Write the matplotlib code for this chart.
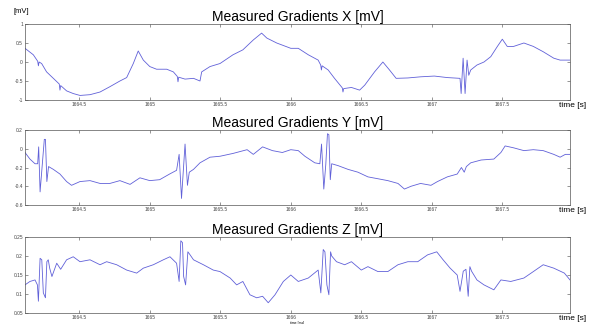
import matplotlib
matplotlib.use("Agg")
import matplotlib.pyplot as plt
import numpy as np

plt.rcParams['font.family'] = ['Liberation Sans', 'DejaVu Sans']

# Gradient X [mV]
tx = [1664.115, 1664.174, 1664.205, 1664.210, 1664.215, 1664.233, 1664.268, 1664.316, 1664.358,
      1664.363, 1664.368, 1664.41, 1664.457, 1664.505, 1664.576, 1664.647, 1664.717, 1664.788,
      1664.836, 1664.883, 1664.918, 1664.954, 1665.0, 1665.048, 1665.12, 1665.167, 1665.195,
      1665.2, 1665.205, 1665.25, 1665.31, 1665.356, 1665.368, 1665.427, 1665.498, 1665.59,
      1665.66, 1665.734, 1665.793, 1665.83, 1665.9, 1666.0, 1666.053, 1666.124, 1666.194,
      1666.212, 1666.217, 1666.222, 1666.265, 1666.31, 1666.365, 1666.37, 1666.375, 1666.43,
      1666.488, 1666.524, 1666.594, 1666.653, 1666.7, 1666.747, 1666.83, 1666.92, 1667.018,
      1667.11, 1667.2, 1667.208, 1667.222, 1667.236, 1667.25, 1667.262, 1667.276, 1667.32,
      1667.37, 1667.418, 1667.465, 1667.5, 1667.535, 1667.58, 1667.653, 1667.72, 1667.79,
      1667.865, 1667.91, 1667.98]
gx = [0.36, 0.19, 0.02, -0.10, 0.0, -0.04, -0.26, -0.43, -0.58,
      -0.74, -0.62, -0.76, -0.83, -0.88, -0.86, -0.79, -0.65, -0.50,
      -0.41, -0.04, 0.29, 0.05, -0.12, -0.19, -0.19, -0.26, -0.38,
      -0.52, -0.40, -0.45, -0.43, -0.50, -0.26, -0.12, -0.04, 0.19,
      0.32, 0.58, 0.76, 0.63, 0.50, 0.36, 0.36, 0.19, 0.05,
      -0.08, -0.21, -0.10, -0.21, -0.43, -0.68, -0.79, -0.70, -0.67,
      -0.74, -0.61, -0.26, 0.0, -0.21, -0.43, -0.42, -0.39, -0.37,
      -0.41, -0.43, -0.83, 0.10, -0.83, 0.05, -0.35, -0.21, -0.08,
      0.0, 0.14, 0.41, 0.60, 0.41, 0.41, 0.50, 0.41, 0.27,
      0.10, 0.05, 0.05]

# Gradient Y [mV]
ty = [1664.115, 1664.15, 1664.186, 1664.205, 1664.212, 1664.222, 1664.238, 1664.252, 1664.26,
      1664.27, 1664.282, 1664.316, 1664.363, 1664.41, 1664.445, 1664.505, 1664.576, 1664.647,
      1664.717, 1664.788, 1664.86, 1664.93, 1665.0, 1665.07, 1665.14, 1665.19, 1665.208,
      1665.225, 1665.25, 1665.267, 1665.28, 1665.31, 1665.356, 1665.427, 1665.498, 1665.59,
      1665.69, 1665.734, 1665.8, 1665.87, 1665.94, 1666.0, 1666.053, 1666.1, 1666.17,
      1666.206, 1666.218, 1666.234, 1666.248, 1666.26, 1666.27, 1666.28, 1666.29, 1666.335,
      1666.406, 1666.476, 1666.547, 1666.618, 1666.688, 1666.76, 1666.806, 1666.853, 1666.92,
      1666.994, 1667.04, 1667.11, 1667.18, 1667.21, 1667.23, 1667.245, 1667.276, 1667.35,
      1667.44, 1667.49, 1667.52, 1667.58, 1667.653, 1667.72, 1667.79, 1667.865, 1667.91,
      1667.947, 1667.98]
gy = [-0.04, -0.11, -0.16, -0.16, 0.02, -0.46, -0.16, 0.10, 0.10,
      -0.35, -0.19, -0.22, -0.27, -0.35, -0.39, -0.35, -0.34, -0.37,
      -0.37, -0.34, -0.38, -0.31, -0.34, -0.33, -0.27, -0.23, -0.06,
      -0.53, 0.05, -0.39, -0.25, -0.22, -0.15, -0.09, -0.08, -0.05,
      -0.01, -0.06, 0.02, -0.02, -0.04, -0.01, -0.02, -0.08, -0.15,
      -0.16, 0.05, -0.43, -0.17, 0.16, 0.15, -0.33, -0.16, -0.18,
      -0.22, -0.25, -0.30, -0.32, -0.34, -0.37, -0.43, -0.40, -0.37,
      -0.39, -0.35, -0.30, -0.27, -0.20, -0.25, -0.19, -0.15, -0.12,
      -0.11, -0.04, 0.03, 0.01, -0.02, -0.01, -0.02, -0.06, -0.09,
      -0.06, -0.06]

# Gradient Z [mV]
tz = [1664.115, 1664.15, 1664.186, 1664.203, 1664.21, 1664.222, 1664.234, 1664.245, 1664.26,
      1664.27, 1664.28, 1664.29, 1664.306, 1664.34, 1664.368, 1664.41, 1664.457, 1664.505,
      1664.576, 1664.647, 1664.694, 1664.765, 1664.836, 1664.907, 1664.954, 1665.025, 1665.096,
      1665.143, 1665.19, 1665.208, 1665.22, 1665.232, 1665.24, 1665.254, 1665.27, 1665.282,
      1665.31, 1665.38, 1665.45, 1665.498, 1665.57, 1665.616, 1665.66, 1665.71, 1665.758,
      1665.8, 1665.84, 1665.888, 1665.947, 1666.0, 1666.053, 1666.124, 1666.194, 1666.213,
      1666.23, 1666.242, 1666.256, 1666.27, 1666.282, 1666.29, 1666.324, 1666.382, 1666.43,
      1666.5, 1666.547, 1666.618, 1666.688, 1666.76, 1666.83, 1666.9, 1666.97, 1667.035,
      1667.08, 1667.13, 1667.18, 1667.2, 1667.223, 1667.242, 1667.258, 1667.27, 1667.282,
      1667.32, 1667.37, 1667.44, 1667.49, 1667.56, 1667.653, 1667.72, 1667.79, 1667.865,
      1667.94, 1667.98]
gz = [0.124, 0.133, 0.137, 0.124, 0.081, 0.194, 0.190, 0.103, 0.090,
      0.185, 0.190, 0.168, 0.146, 0.181, 0.165, 0.190, 0.198, 0.185,
      0.190, 0.177, 0.185, 0.177, 0.163, 0.155, 0.168, 0.177, 0.190,
      0.198, 0.181, 0.133, 0.240, 0.235, 0.146, 0.124, 0.211, 0.205,
      0.190, 0.177, 0.163, 0.159, 0.142, 0.124, 0.133, 0.098, 0.090,
      0.094, 0.077, 0.098, 0.133, 0.150, 0.133, 0.142, 0.163, 0.103,
      0.217, 0.211, 0.124, 0.098, 0.211, 0.200, 0.185, 0.177, 0.185,
      0.163, 0.172, 0.159, 0.159, 0.177, 0.185, 0.185, 0.203, 0.211,
      0.190, 0.168, 0.150, 0.107, 0.160, 0.165, 0.094, 0.172, 0.160,
      0.137, 0.124, 0.111, 0.137, 0.133, 0.142, 0.159, 0.177, 0.168,
      0.155, 0.137]

xticks = [1664.5, 1665, 1665.5, 1666, 1666.5, 1667, 1667.5]
xtick_labels = ['1664.5', '1665', '1665.5', '1666', '1666.5', '1667', '1667.5']
xlim = (1664.115, 1667.98)

panels = [
    ('Measured Gradients X [mV]', tx, gx, (-1, 1), [-1, -0.5, 0, 0.5, 1], ['-1', '-0.5', '0', '0.5', '1']),
    ('Measured Gradients Y [mV]', ty, gy, (-0.6, 0.2), [-0.6, -0.4, -0.2, 0, 0.2], ['-0.6', '-0.4', '-0.2', '0', '0.2']),
    ('Measured Gradients Z [mV]', tz, gz, (0.05, 0.25), [0.05, 0.1, 0.15, 0.2, 0.25], ['0.05', '0.1', '0.15', '0.2', '0.25']),
]

fig = plt.figure(figsize=(5.97, 3.24), dpi=100)
# top/bottom pixel rows of each panel in the reference
rows = [(24, 100), (130, 205), (237, 313)]
line_color = '#6060d8'

for (title, t, g, ylim, yt, ytl), (top, bot) in zip(panels, rows):
    ax = fig.add_axes([25 / 597, 1 - bot / 324, 545 / 597, (bot - top) / 324])
    ax.plot(t, g, color=line_color, lw=0.6)
    ax.set_xlim(*xlim)
    ax.set_ylim(*ylim)
    ax.set_xticks(xticks)
    ax.set_xticklabels(xtick_labels)
    ax.set_yticks(yt)
    ax.set_yticklabels(ytl)
    ax.tick_params(direction='in', length=2, width=0.4, labelsize=3.5, pad=1.5,
                   top=True, right=True, colors='#444444')
    for s in ax.spines.values():
        s.set_linewidth(0.5)
        s.set_color('#555555')
    ax.set_title(title, fontsize=10, pad=2)
    ax.text(0.98, -0.03, 'time [s]', transform=ax.transAxes, fontsize=6, ha='left', va='top')

fig.axes[0].text(-0.022, 1.12, '[mV]', transform=fig.axes[0].transAxes, fontsize=5.5, ha='left', va='bottom')
fig.axes[2].set_xlabel('time [ms]', fontsize=2.5, labelpad=0.5)

fig.savefig('out.png', dpi=100)
